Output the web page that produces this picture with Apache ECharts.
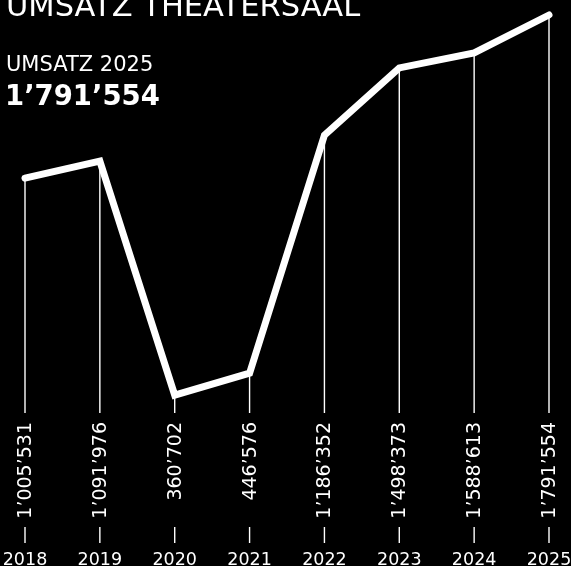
<!DOCTYPE html>
<html>
<head>
<meta charset="utf-8">
<script src="https://cdn.jsdelivr.net/npm/echarts@6/dist/echarts.min.js"></script>
<style>
  html, body { margin: 0; padding: 0; background: #000; }
  #chart { width: 571px; height: 566px; }
</style>
</head>
<body>
<div id="chart"></div>
<script>
// Years (categories)
var years = ['2018', '2019', '2020', '2021', '2022', '2023', '2024', '2025'];
// Revenue labels as printed
var revenueLabels = ['1’005’531', '1’091’976', '360’702', '446’576', '1’186’352', '1’498’373', '1’588’613', '1’791’554'];
// Line height as drawn in the picture (relative scale 0–100)
var lineLevel = [59.0, 63.3, 4.5, 10.0, 69.8, 86.7, 90.5, 100];

var FONT = '"DejaVu Sans"';

var chart = echarts.init(document.getElementById('chart'), null, { renderer: 'canvas' });

var option = {
  backgroundColor: '#000',
  animation: false,
  grid: { left: 25, right: 22, top: 15, bottom: 153, outerBoundsMode: 'none', containLabel: false },
  xAxis: {
    type: 'category',
    data: years,
    boundaryGap: false,
    axisLine: { show: false },
    axisTick: { show: false },
    splitLine: { show: false },
    axisLabel: {
      color: '#fff',
      fontFamily: 'DejaVu Sans',
      fontSize: 17.5,
      fontWeight: 400,
      margin: 138,
      interval: 0,
      hideOverlap: false
    }
  },
  yAxis: {
    type: 'value',
    min: 0,
    max: 100,
    show: false,
    splitLine: { show: false }
  },
  graphic: [
    { type: 'text', left: 6, top: -7, style: { text: 'UMSATZ THEATERSAAL', fill: '#fff', font: '400 30.5px ' + FONT } },
    { type: 'text', left: 6, top: 55, style: { text: 'UMSATZ 2025', fill: '#fff', font: '400 21px ' + FONT } },
    { type: 'text', left: 5, top: 84, style: { text: revenueLabels[revenueLabels.length - 1], fill: '#fff', font: '700 27.5px ' + FONT } }
  ],
  series: [
    {
      type: 'custom',
      data: lineLevel.map(function (v, i) { return [i, v]; }),
      clip: false,
      renderItem: function (params, api) {
        var i = api.value(0);
        var v = api.value(1);
        var top = api.coord([i, v]);
        var base = api.coord([i, 0]);
        return {
          type: 'group',
          children: [
            { type: 'rect', shape: { x: base[0] - 0.7, y: top[1], width: 1.4, height: base[1] - top[1] }, style: { fill: '#fff' } },
            { type: 'text', x: base[0] + 1, y: base[1] + 9, rotation: Math.PI / 2,
              style: { text: revenueLabels[i], fill: '#fff', font: '400 19px ' + FONT, align: 'right', verticalAlign: 'middle' } },
            { type: 'rect', shape: { x: base[0] - 0.7, y: base[1] + 114, width: 1.4, height: 16 }, style: { fill: '#fff' } }
          ]
        };
      }
    },
    {
      type: 'line',
      data: lineLevel,
      clip: false,
      symbol: 'none',
      lineStyle: { color: '#fff', width: 7, cap: 'round', join: 'miter' },
      z: 5
    }
  ]
};
chart.setOption(option);
</script>
</body>
</html>
